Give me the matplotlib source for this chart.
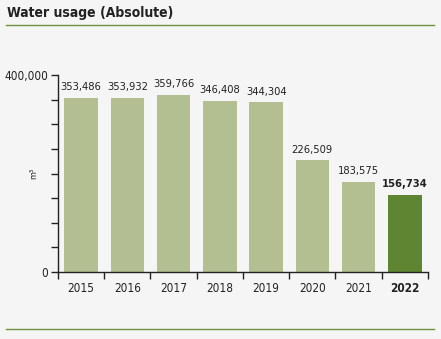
import matplotlib
matplotlib.use("Agg")
import matplotlib.pyplot as plt
from matplotlib.lines import Line2D
from matplotlib.ticker import FixedLocator, FuncFormatter

years = ["2015", "2016", "2017", "2018", "2019", "2020", "2021", "2022"]
usage = [353486, 353932, 359766, 346408, 344304, 226509, 183575, 156734]

BG = "#f5f5f5"
LIGHT = "#b3bf91"
DARK = "#5e8632"
LINE = "#6e8f3e"
TXT = "#222222"

plt.rcParams['font.family'] = ['DejaVu Sans']
plt.rcParams['font.stretch'] = 'condensed'

fig = plt.figure(figsize=(4.41, 3.39), dpi=100, facecolor=BG)
ax = fig.add_axes([58 / 441, 1 - 272 / 339, 370 / 441, 197 / 339])
ax.set_facecolor(BG)

x = list(range(len(years)))
colors = [LIGHT] * (len(years) - 1) + [DARK]
ax.bar(x, usage, width=0.72, color=colors, zorder=2)

for i, v in enumerate(usage):
    last = i == len(usage) - 1
    ax.text(i, v + 12000, f"{v:,}", ha="center", va="bottom", fontsize=8,
            color=TXT, fontweight="bold" if last else "normal")

ax.set_xlim(-0.5, len(years) - 0.5)
ax.set_ylim(0, 400000)

# category boundary ticks on x axis, labels centred below bars
ax.xaxis.set_major_locator(FixedLocator([i - 0.5 for i in range(len(years) + 1)]))
ax.xaxis.set_major_formatter(FuncFormatter(lambda v, p: ""))
ax.tick_params(axis="x", which="major", length=5, width=1, color=TXT, direction="out")
ax.set_xticks(x, minor=True)
ax.set_xticklabels(years, minor=True)
ax.tick_params(axis="x", which="minor", length=0, labelsize=8.5, pad=7, labelcolor=TXT)
for lbl in ax.get_xticklabels(minor=True):
    if lbl.get_text() == "2022":
        lbl.set_fontweight("bold")

ax.set_yticks(range(0, 400001, 50000))
ax.yaxis.set_major_formatter(FuncFormatter(
    lambda v, p: f"{int(v):,}" if v in (0, 400000) else ""))
ax.tick_params(axis="y", length=5, width=1, color=TXT, labelsize=8.5, labelcolor=TXT, pad=2)

for s in ["top", "right"]:
    ax.spines[s].set_visible(False)
for s in ["left", "bottom"]:
    ax.spines[s].set_color(TXT)
    ax.spines[s].set_linewidth(1)

ax.set_ylabel("m³", fontsize=6.5, color=TXT)
ax.yaxis.set_label_coords(-0.054, 0.5)

fig.text(7 / 441, 1 - 13 / 339, "Water usage (Absolute)", fontsize=10, fontweight="bold",
         color=TXT, va="center", ha="left")
fig.add_artist(Line2D([6 / 441, 434 / 441], [1 - 25 / 339, 1 - 25 / 339], color=LINE, lw=1))
fig.add_artist(Line2D([6 / 441, 434 / 441], [1 - 329 / 339, 1 - 329 / 339], color=LINE, lw=1))

fig.savefig("out.png", dpi=100, facecolor=BG)
